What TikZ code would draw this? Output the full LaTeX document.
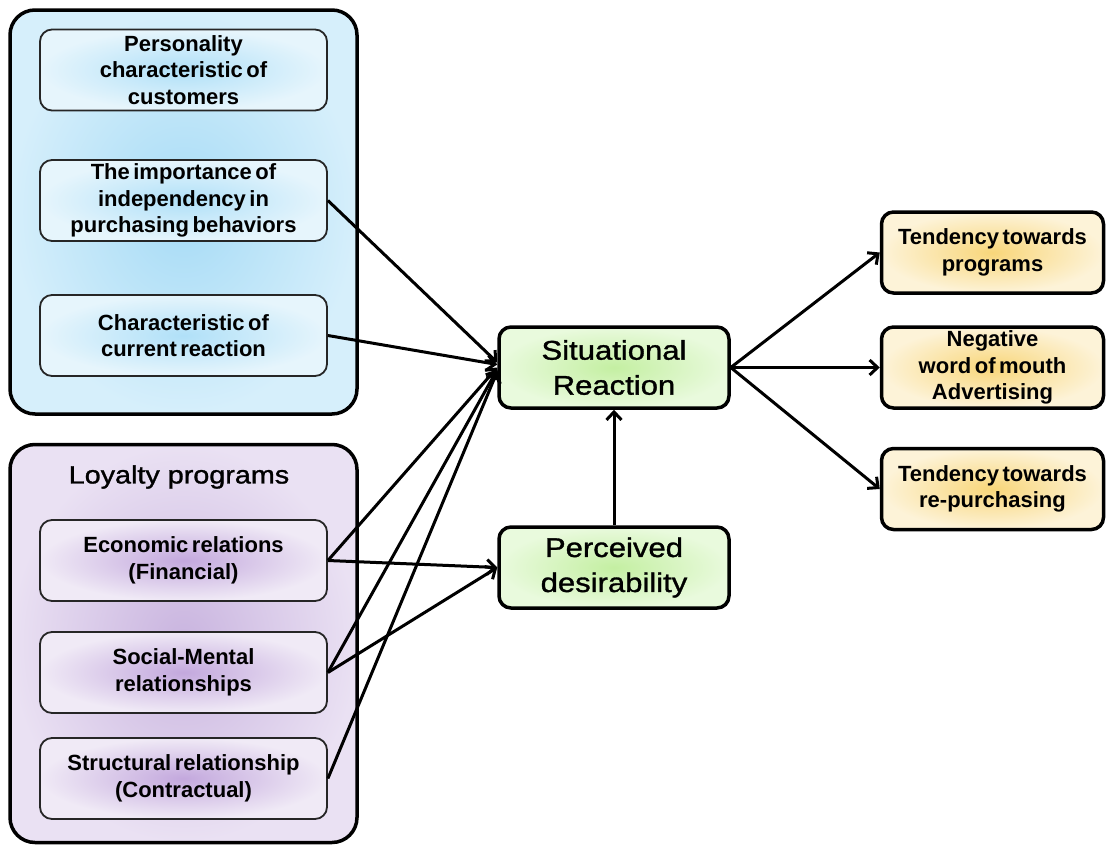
\documentclass[tikz,border=0pt]{standalone}
\usepackage{fontspec}
\setmainfont{Liberation Sans}
\newfontfamily\widefont{Liberation Sans}[FakeStretch=1.15, FakeBold=1.2]
\usetikzlibrary{arrows.meta}
\newcommand\bxfont{\fontsize{22}{26.5}\selectfont\bfseries\spaceskip=0.16em plus 0.05em\relax}
\newcommand\bigfont{\fontsize{27}{35}\selectfont\widefont}
\definecolor{blueedge}{HTML}{D6EFFB}
\definecolor{bluecenter}{HTML}{A6DBF6}
\definecolor{blueinedge}{HTML}{E6F5FC}
\definecolor{blueincenter}{HTML}{B0E0F8}
\definecolor{purpedge}{HTML}{EAE1F3}
\definecolor{purpcenter}{HTML}{C9B4DF}
\definecolor{purpinedge}{HTML}{F0EAF6}
\definecolor{purpincenter}{HTML}{C3A8DD}
\definecolor{greenedge}{HTML}{E9FADD}
\definecolor{greencenter}{HTML}{C4EFA2}
\definecolor{yelledge}{HTML}{FDF3D8}
\definecolor{yellcenter}{HTML}{F8D67A}
\begin{document}
\begin{tikzpicture}[x=1pt,y=-1pt,
  outerbox/.style={draw=black, line width=3.5pt, rounded corners=25pt, minimum width=347pt, inner sep=0pt},
  innerbox/.style={draw=black!85, line width=1.8pt, rounded corners=12pt, minimum width=287pt, minimum height=81pt, align=center, inner sep=2pt, font=\bxfont},
  bluein/.style={innerbox, inner color=blueincenter, outer color=blueinedge},
  purpin/.style={innerbox, inner color=purpincenter, outer color=purpinedge},
  midbox/.style={draw=black, line width=3.5pt, rounded corners=12pt, minimum width=230pt, minimum height=81pt, align=center, inner sep=2pt, font=\bigfont, inner color=greencenter, outer color=greenedge},
  outbox/.style={draw=black, line width=3.5pt, rounded corners=12pt, minimum width=222pt, minimum height=81pt, align=center, inner sep=1pt, font=\bxfont, inner color=yellcenter, outer color=yelledge},
  arr/.style={line width=3pt, -{Straight Barb[length=8pt,width=15pt,line width=3pt]}}
]
\useasboundingbox (0,0) rectangle (1106,846);

% outer group boxes
\node[outerbox, minimum height=404pt, inner color=bluecenter, outer color=blueedge] (blue) at (183.5,212) {};
\node[outerbox, minimum height=398pt, inner color=purpcenter, outer color=purpedge] (purp) at (183.5,643.5) {};

% blue inner boxes
\node[bluein] (pers) at (183.5,70) {Personality\\characteristic of\\customers};
\node[bluein] (imp) at (183.5,200.5) {The importance of\\independency in\\purchasing behaviors};
\node[bluein] (cha) at (183.5,335.5) {Characteristic of\\current reaction};

% purple title and inner boxes
\node[font=\fontsize{25}{30}\selectfont\widefont, inner sep=0pt] (loy) at (179,477) {Loyalty programs};
\node[purpin] (eco) at (183.5,560.5) {Economic relations\\(Financial)};
\node[purpin] (soc) at (183.5,672.5) {Social-Mental\\relationships};
\node[purpin] (str) at (183.5,778.5) {Structural relationship\\(Contractual)};

% middle boxes
\node[midbox] (sr) at (614,367.5) {Situational\\Reaction};
\node[midbox] (pd) at (614,567.5) {Perceived\\desirability};

% right boxes
\node[outbox] (t1) at (992.5,252.5) {Tendency towards\\programs};
\node[outbox] (t2) at (992.5,367.5) {Negative\\word of mouth\\Advertising};
\node[outbox] (t3) at (992.5,489) {Tendency towards\\re-purchasing};

% connectors into Situational Reaction
\draw[arr] (imp.east) -- ([yshift=5pt]sr.west);
\draw[arr] (cha.east) -- ([yshift=3pt]sr.west);
\draw[arr] (eco.east) -- ([yshift=0pt]sr.west);
\draw[arr] (soc.east) -- ([yshift=-2pt]sr.west);
\draw[arr] (str.east) -- ([yshift=-4pt]sr.west);
% connectors into Perceived desirability
\draw[arr] (eco.east) -- (pd.west);
\draw[arr] (soc.east) -- (pd.west);
% perceived to situational
\draw[arr] (pd.north) -- (sr.south);
% outputs
\draw[arr] (sr.east) -- (t1.west);
\draw[arr] (sr.east) -- (t2.west);
\draw[arr] (sr.east) -- (t3.west);
\end{tikzpicture}
\end{document}
